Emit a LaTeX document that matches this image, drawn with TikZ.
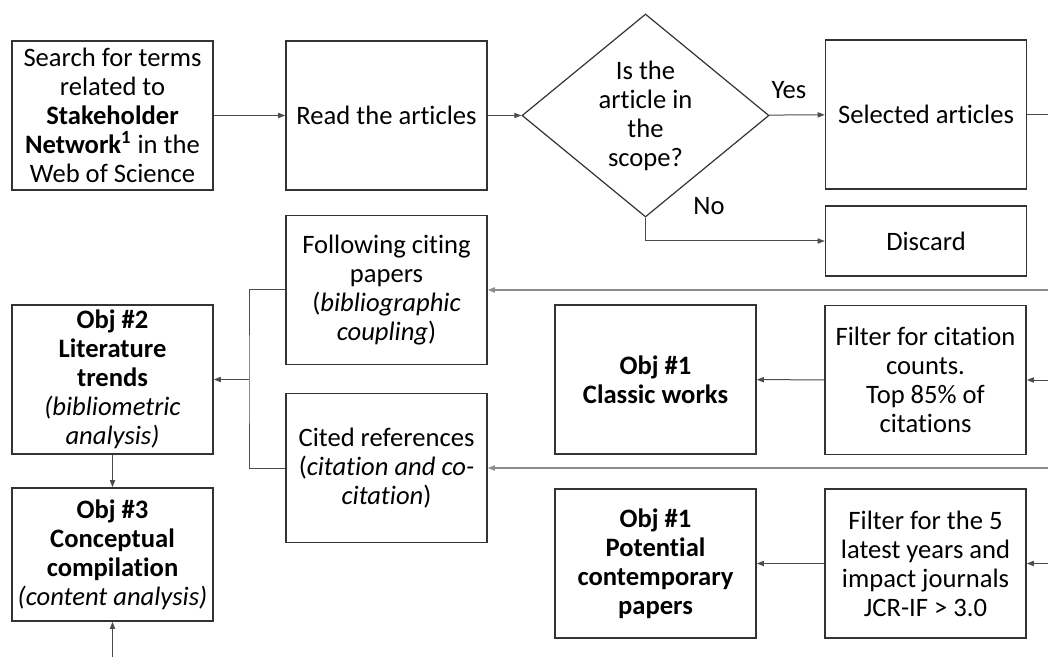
\documentclass[tikz,border=0pt]{standalone}
\usepackage{fontspec}
\setmainfont{Carlito}[RawFeature={-liga;-clig;-calt;-dlig}]
\usetikzlibrary{arrows.meta,calc,positioning,shapes.geometric}
\tikzset{
  stepbox/.style   = {draw=black!80, line width=0.8pt, align=center,
                      inner sep=2pt, minimum width=100.5pt, minimum height=74.5pt},
  decision/.style  = {diamond, draw=black!80, line width=0.6pt, align=center,
                      inner sep=0pt, aspect=1.2,
                      minimum width=123.5pt, minimum height=101.5pt},
  flow/.style      = {-{Triangle[length=3.5pt,width=2.6pt]}, line width=0.5pt, black!70},
  plainflow/.style = {line width=0.5pt, black!70},
  feed/.style      = {-{Triangle[length=3.5pt,width=2.6pt]}, line width=0.6pt, black!45},
  flowlabel/.style = {inner sep=1pt},
}

\begin{document}
\begin{tikzpicture}[x=0.5pt,y=-0.5pt,
    every node/.style={font=\fontsize{13.3}{14.5}\selectfont}]
  \useasboundingbox (0,0) rectangle (1048,657);

  % ---- top row -----------------------------------------------------------
  \node[stepbox] (search) at (112.5,115.5)
    {Search for terms\\ related to\\ \textbf{Stakeholder}\\
     \textbf{Network\textsuperscript{1}} in the\\ Web of Science};
  \node[stepbox] (read) at (386.5,115.5) {Read the articles};
  \node[decision] (scope) at (645.5,115.5) {Is the\\ article in\\ the\\ scope?};
  \node[stepbox] (selected) at (926,114.5) {Selected articles};
  \node[stepbox, minimum height=35pt] (discard) at (926,241) {Discard};
  \node[flowlabel] (yes) at (789,90) {Yes};
  \node[flowlabel] (no) at (709,206) {No};

  \draw[flow] (search) -- (read);
  \draw[flow] (read) -- (scope);
  \draw[flow] (scope) -- (selected);
  \draw[flow] (scope.south) |- (discard.west);
  \coordinate (outsel) at (1048,114.5);
  \draw[plainflow] (selected) -- (outsel);

  % ---- citation branches -------------------------------------------------
  \node[stepbox] (citing) at (386.5,290)
    {Following citing\\ papers\\ (\textit{bibliographic}\\ \textit{coupling})};
  \node[stepbox] (cited) at (386.5,468)
    {Cited references\\ (\textit{citation and co-}\\ \textit{citation})};
  \node[stepbox] (classic) at (655.5,379.5) {\textbf{Obj \#1}\\ \textbf{Classic works}};
  \node[stepbox] (filtcite) at (925.5,380)
    {Filter for citation\\ counts.\\ Top 85\% of\\ citations};
  \node[stepbox] (potential) at (655.5,563.5)
    {\textbf{Obj \#1}\\ \textbf{Potential}\\ \textbf{contemporary}\\ \textbf{papers}};
  \node[stepbox] (filtyear) at (925.5,563.5)
    {Filter for the 5\\ latest years and\\ impact journals\\ JCR-IF > 3.0};

  \coordinate (incite)  at (1048,290);
  \coordinate (inclass) at (1048,380);
  \coordinate (incited) at (1048,468);
  \coordinate (inyear)  at (1048,563.5);
  \draw[feed] (incite) -- (citing.east);
  \draw[feed] (incited) -- (cited.east);
  \draw[flow] (inclass) -- (filtcite.east);
  \draw[flow] (filtcite) -- (classic);
  \draw[flow] (inyear) -- (filtyear.east);
  \draw[flow] (filtyear) -- (potential);

  % ---- objectives on the left --------------------------------------------
  \node[stepbox] (trends) at (112.5,379.5)
    {\textbf{Obj \#2}\\ \textbf{Literature}\\ \textbf{trends}\\
     \textit{(bibliometric}\\ \textit{analysis)}};
  \node[stepbox, minimum height=66.5pt] (concept) at (112.5,554.5)
    {\textbf{Obj \#3}\\ \textbf{Conceptual}\\ \textbf{compilation}\\
     \textit{(content analysis)}};

  \coordinate (join) at (249,379.5);
  \draw[plainflow] (citing.west) -| (join) |- (cited.west);
  \draw[flow] (join) -- (trends.east);
  \draw[flow] (trends) -- (concept);
  \coordinate (incon) at (112.5,657);
  \draw[flow] (incon) -- (concept.south);
\end{tikzpicture}
\end{document}
